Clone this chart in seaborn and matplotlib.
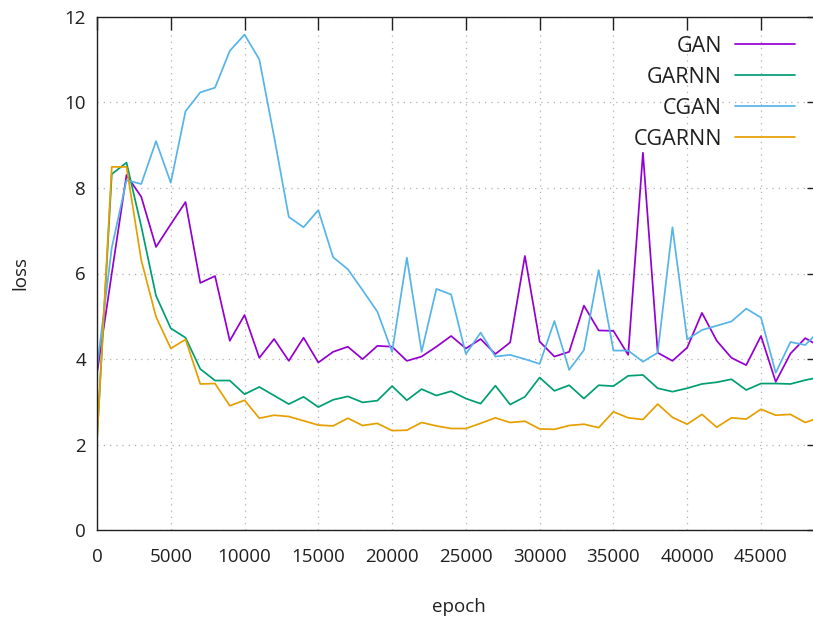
import numpy as np
import pandas as pd
import matplotlib
matplotlib.use("Agg")
import matplotlib.pyplot as plt
import seaborn as sns

# Loss curves recorded every 1000 epochs
epochs = list(range(0, 50000, 1000))

gan = [3.67, 6.00, 8.30, 7.79, 6.62, 7.15, 7.67, 5.78, 5.94, 4.43,
       5.03, 4.03, 4.47, 3.96, 4.50, 3.92, 4.17, 4.29, 4.00, 4.31,
       4.29, 3.96, 4.06, 4.29, 4.54, 4.25, 4.47, 4.12, 4.39, 6.41,
       4.41, 4.06, 4.17, 5.25, 4.67, 4.66, 4.10, 8.82, 4.15, 3.96,
       4.27, 5.08, 4.43, 4.03, 3.86, 4.54, 3.47, 4.13, 4.49, 4.29]

garnn = [2.15, 8.32, 8.59, 7.10, 5.48, 4.72, 4.50, 3.77, 3.50, 3.50,
         3.18, 3.35, 3.15, 2.95, 3.12, 2.88, 3.05, 3.13, 2.99, 3.03,
         3.37, 3.04, 3.30, 3.15, 3.25, 3.08, 2.96, 3.38, 2.94, 3.12,
         3.57, 3.26, 3.39, 3.08, 3.39, 3.37, 3.61, 3.63, 3.32, 3.24,
         3.32, 3.42, 3.46, 3.53, 3.28, 3.43, 3.43, 3.42, 3.51, 3.58]

cgan = [3.80, 6.60, 8.18, 8.09, 9.09, 8.12, 9.79, 10.23, 10.34, 11.20,
        11.58, 11.00, 9.20, 7.32, 7.08, 7.48, 6.38, 6.10, 5.61, 5.11,
        4.17, 6.37, 4.17, 5.64, 5.51, 4.12, 4.62, 4.06, 4.10, 4.00,
        3.89, 4.89, 3.75, 4.21, 6.08, 4.20, 4.20, 3.94, 4.15, 7.08,
        4.46, 4.68, 4.78, 4.88, 5.18, 4.97, 3.68, 4.40, 4.33, 4.68]

cgarnn = [2.10, 8.49, 8.49, 6.31, 4.99, 4.25, 4.46, 3.42, 3.43, 2.91,
          3.04, 2.62, 2.69, 2.66, 2.56, 2.46, 2.44, 2.62, 2.45, 2.50,
          2.33, 2.34, 2.52, 2.44, 2.38, 2.38, 2.50, 2.63, 2.52, 2.55,
          2.37, 2.36, 2.45, 2.48, 2.40, 2.77, 2.63, 2.59, 2.95, 2.64,
          2.48, 2.71, 2.41, 2.63, 2.60, 2.83, 2.69, 2.71, 2.52, 2.64]

series_names = ["GAN", "GARNN", "CGAN", "CGARNN"]
colors = ["#9400d3", "#009e73", "#56b4e9", "#e69f00"]

x_ticks = [0, 5000, 10000, 15000, 20000, 25000, 30000, 35000, 40000, 45000]
y_ticks = [0, 2, 4, 6, 8, 10, 12]

df = pd.DataFrame({
    "epoch": epochs * 4,
    "loss": gan + garnn + cgan + cgarnn,
    "model": sum([[n] * len(epochs) for n in series_names], []),
})

sns.set_theme(style="white")
plt.rcParams["font.family"] = ["Open Sans", "DejaVu Sans"]
plt.rcParams["font.size"] = 13.5

W, H = 813, 621
fig = plt.figure(figsize=(W / 100, H / 100), dpi=100)
# axes run slightly past the right edge of the canvas
left, right, top, bottom = 97, 820, 16.6, 530.4
ax = fig.add_axes([left / W, 1 - bottom / H, (right - left) / W, (bottom - top) / H])

sns.lineplot(data=df, x="epoch", y="loss", hue="model", hue_order=series_names,
             palette=colors, linewidth=1.25, ax=ax, legend=True)

ax.set_xlim(0, 49000)
ax.set_ylim(0, 12)
ax.set_xticks(x_ticks)
ax.set_yticks(y_ticks)
ax.set_xticklabels([str(t) for t in x_ticks])
ax.set_yticklabels([str(t) for t in y_ticks])

ax.grid(True, color="#b0b0b0", linestyle=(0, (1, 4)), linewidth=0.9)
for s in ax.spines.values():
    s.set_color("#202020")
    s.set_linewidth(1.0)
ax.tick_params(axis="both", direction="in", length=9.4, width=1.0, color="#202020",
               top=True, right=True, labelsize=13.5, labelcolor="#202020")
ax.tick_params(axis="x", pad=12.5)
ax.tick_params(axis="y", pad=8)

ax.set_xlabel("epoch", fontsize=13.5, color="#202020", labelpad=23)
ax.set_ylabel("loss", fontsize=13.5, color="#202020", labelpad=25)

handles, labels = ax.get_legend_handles_labels()
leg = ax.legend(handles, labels, loc="upper right",
                bbox_to_anchor=(795 / W, 1 - 35.5 / H), bbox_transform=fig.transFigure,
                frameon=False, markerfirst=False, borderpad=0, borderaxespad=0,
                handlelength=2.8, handletextpad=0.6, labelspacing=0.47, fontsize=15.5)
for col in leg._legend_box.get_children()[1].get_children():
    col.align = "right"
for t in leg.get_texts():
    t.set_color("#202020")

fig.savefig("out.png", dpi=100)
